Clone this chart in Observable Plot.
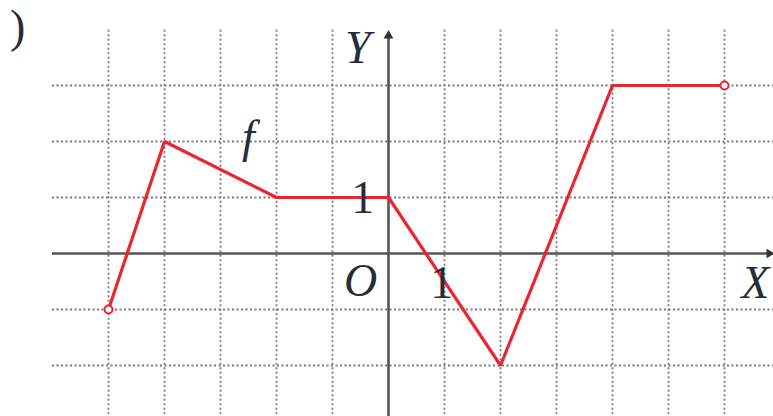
<!DOCTYPE html>
<html>
<head>
<meta charset="utf-8">
<script src="https://cdn.jsdelivr.net/npm/d3@7"></script>
<script src="https://cdn.jsdelivr.net/npm/@observablehq/plot@0.6"></script>
<style>
  html, body { margin: 0; padding: 0; background: #fff; }
  #chart svg { display: block; }
</style>
</head>
<body>
<div id="chart"></div>
<script>
// Function f: piecewise-linear vertices
const fx = [-5, -4, -2, 0, 2, 4, 6];
const fy = [-1, 2, 1, 1, -2, 3, 3];
// open endpoints
const openX = [-5, 6];
const openY = [-1, 3];
// grid lines
const gridX = [-5, -4, -3, -2, -1, 1, 2, 3, 4, 5, 6];
const gridY = [-2, -1, 1, 2, 3];
// labels
const labelText = ["Y", "1", "O", "1", "X", "f", ")"];
const labelX = [-0.55, -0.46, -0.5, 0.95, 6.55, -2.5, -6.62];
const labelY = [3.41, 0.73, -0.75, -0.79, -0.79, 1.82, 3.78];
const labelItalic = [true, false, true, false, true, true, false];

const fData = fx.map((x, i) => ({x, y: fy[i]}));
const openData = openX.map((x, i) => ({x, y: openY[i]}));
const labels = labelText.map((t, i) => ({t, x: labelX[i], y: labelY[i], it: labelItalic[i]}));

const gridColor = "#7a7a7a";
const axisColor = "#555";
const red = "#ea2530";
const textColor = "#262c3c";
const font = "'Liberation Serif', 'DejaVu Serif', serif";

const chart = Plot.plot({
  width: 773,
  height: 416,
  margin: 0,
  x: {domain: [-388 / 56, 385 / 56], axis: null},
  y: {domain: [-163 / 56, 253 / 56], axis: null},
  style: {background: "#fff"},
  marks: [
    Plot.ruleX(gridX, {y1: -3.2, y2: 4.0, stroke: gridColor, strokeWidth: 1.8, strokeDasharray: "2,2.5"}),
    Plot.ruleY(gridY, {x1: -6, x2: 7.2, stroke: gridColor, strokeWidth: 1.8, strokeDasharray: "2,2.5"}),
    Plot.ruleY([0], {x1: -6, x2: 6.78, stroke: axisColor, strokeWidth: 2.6}),
    Plot.ruleX([0], {y1: -3.2, y2: 3.88, stroke: axisColor, strokeWidth: 2.6}),
    Plot.dot([{x: 6.8, y: 0}], {x: "x", y: "y", symbol: "triangle", rotate: 90, r: 3.6, fill: "#333", stroke: "none"}),
    Plot.dot([{x: 0, y: 3.89}], {x: "x", y: "y", symbol: "triangle", r: 3.6, fill: "#333", stroke: "none"}),
    Plot.line(fData, {x: "x", y: "y", stroke: red, strokeWidth: 3.2, strokeLinejoin: "miter"}),
    Plot.dot(openData, {x: "x", y: "y", r: 4, fill: "#fff", stroke: red, strokeWidth: 2}),
    Plot.text(labels.filter(d => d.it), {x: "x", y: "y", text: "t", fontSize: 46, fontFamily: font, fontStyle: "italic", fill: textColor, textAnchor: "middle", lineAnchor: "bottom"}),
    Plot.text(labels.filter(d => !d.it), {x: "x", y: "y", text: "t", fontSize: 46, fontFamily: font, fill: textColor, textAnchor: "middle", lineAnchor: "bottom"})
  ]
});
document.getElementById("chart").appendChild(chart);
</script>
</body>
</html>
